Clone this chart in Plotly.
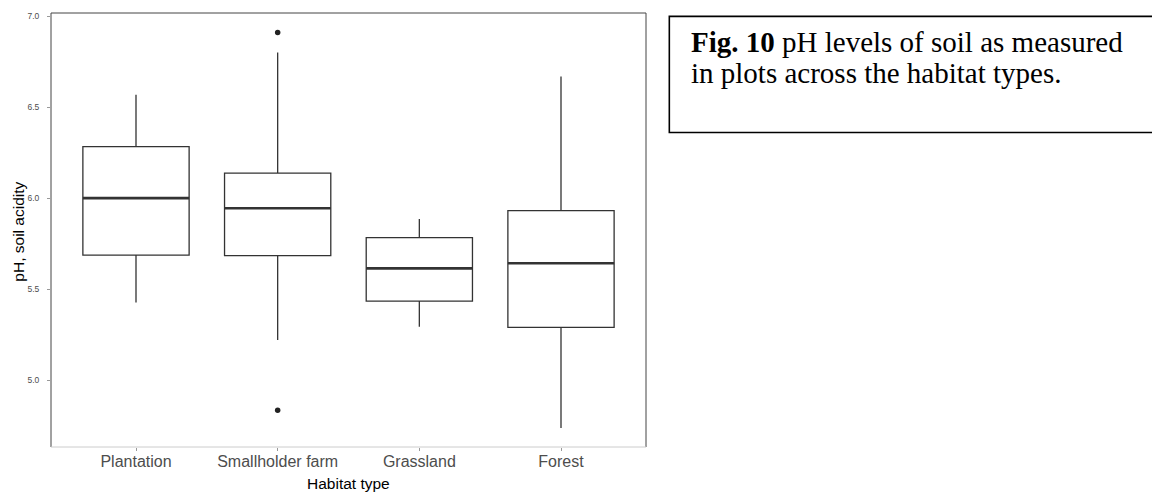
import plotly.graph_objects as go

categories = ["Plantation", "Smallholder farm", "Grassland", "Forest"]
q1_vals = [5.687, 5.684, 5.434, 5.290]
median_vals = [6.0, 5.944, 5.614, 5.642]
q3_vals = [6.283, 6.137, 5.783, 5.931]
lower_vals = [5.427, 5.220, 5.293, 4.738]
upper_vals = [6.567, 6.800, 5.885, 6.668]
outlier_cat = ["Smallholder farm", "Smallholder farm"]
outlier_vals = [6.91, 4.835]
y_ticks = [5.0, 5.5, 6.0, 6.5, 7.0]
y_ticklabels = ["5.0", "5.5", "6.0", "6.5", "7.0"]
x_title = "Habitat type"
y_title = "pH, soil acidity"
caption_lines = ["<b>Fig. 10</b> pH levels of soil as measured",
                 "in plots across the habitat types."]

BOXW = 0.75
pos = list(range(len(categories)))

fig = go.Figure()
for i, c in enumerate(categories):
    fig.add_trace(go.Box(
        x=[pos[i]], q1=[q1_vals[i]], median=[median_vals[i]], q3=[q3_vals[i]],
        lowerfence=[lower_vals[i]], upperfence=[upper_vals[i]],
        width=BOXW, fillcolor="white", line=dict(color="#333333", width=1.3),
        whiskerwidth=0, showlegend=False, boxpoints=False, hoverinfo="skip"))
    # thicker median line (ggplot style)
    fig.add_trace(go.Scatter(
        x=[pos[i] - BOXW / 2, pos[i] + BOXW / 2], y=[median_vals[i], median_vals[i]],
        mode="lines", line=dict(color="#333333", width=2.6), showlegend=False, hoverinfo="skip"))

fig.add_trace(go.Scatter(
    x=[categories.index(c) for c in outlier_cat], y=outlier_vals, mode="markers",
    marker=dict(color="#222222", size=5.5), showlegend=False, hoverinfo="skip"))

L, R, T, B = 51.3, 645.7, 13.3, 446.7
W, H = 1152, 493
pw, ph = R - L, B - T

def px(xp):
    return (xp - L) / pw

def py(yp):
    return (B - yp) / ph

shapes = [
    dict(type="line", xref="paper", yref="paper", x0=0, x1=0, y0=0, y1=1, line=dict(color="#444444", width=1)),
    dict(type="line", xref="paper", yref="paper", x0=0, x1=1, y0=1, y1=1, line=dict(color="#444444", width=1)),
    dict(type="line", xref="paper", yref="paper", x0=1, x1=1, y0=0, y1=1, line=dict(color="#444444", width=1)),
    dict(type="line", xref="paper", yref="paper", x0=0, x1=1, y0=0, y1=0, line=dict(color="#cccccc", width=1)),
    dict(type="rect", xref="paper", yref="paper", x0=px(669), x1=px(1162), y0=py(132.7), y1=py(16.7),
         line=dict(color="black", width=1.6), fillcolor="rgba(0,0,0,0)"),
]

annotations = []
for line, ymid in zip(caption_lines, [42.0, 73.7]):
    annotations.append(dict(
        xref="paper", yref="paper", x=px(689), y=py(ymid), xanchor="left", yanchor="middle",
        align="left", showarrow=False, text=line,
        font=dict(family="Liberation Serif, Times New Roman, serif", size=29, color="black")))

annotations.append(dict(
    xref="paper", yref="paper", x=0.5, y=py(483), xanchor="center", yanchor="middle",
    showarrow=False, text=x_title, font=dict(size=15.5, color="black")))
annotations.append(dict(
    xref="paper", yref="paper", x=px(18), y=py(232), xanchor="center", yanchor="middle",
    showarrow=False, text=y_title, textangle=-90, font=dict(size=15.5, color="black")))

fig.update_layout(
    width=W, height=H,
    margin=dict(l=L, r=W - R, t=T, b=H - B, pad=0),
    plot_bgcolor="white", paper_bgcolor="white",
    font=dict(family="Arial, Liberation Sans, sans-serif"),
    shapes=shapes,
    annotations=annotations,
    xaxis=dict(range=[-0.6, 3.6], tickmode="array", tickvals=pos, ticktext=categories,
               showgrid=False, zeroline=False, showline=False, automargin=False,
               ticks="outside", ticklen=3, tickcolor="#999999", tickwidth=1,
               ticklabelstandoff=-3,
               tickfont=dict(size=16, color="#4d4d4d")),
    yaxis=dict(range=[4.633, 7.0165], tickmode="array", tickvals=y_ticks, ticktext=y_ticklabels,
               showgrid=False, zeroline=False, showline=False, automargin=False,
               ticks="outside", ticklen=3, tickcolor="#999999", tickwidth=1,
               ticklabelstandoff=6,
               tickfont=dict(size=8.5, color="#4d4d4d")),
)

fig.write_html("out.html")
